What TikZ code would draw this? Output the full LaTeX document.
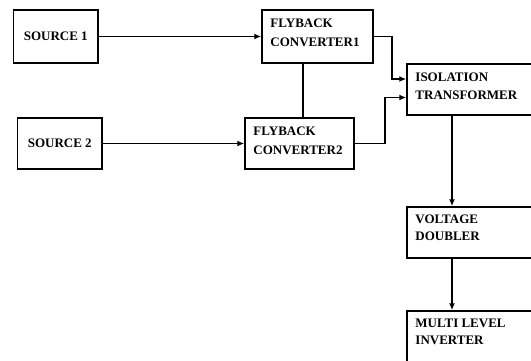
\documentclass[tikz,border=0pt]{standalone}
\usepackage{fontspec}
\setmainfont{Liberation Serif}
\usetikzlibrary{arrows.meta,calc}
\tikzset{
  blk/.style={draw=black, line width=1.5pt, rectangle, inner sep=0pt, fill=white},
  lbl/.style={font=\fontsize{13}{15}\selectfont\bfseries, inner sep=0pt, anchor=base west, text=black},
  conn/.style={line width=1.5pt, draw=black},
  arr/.style={conn, -{Latex[length=7pt,width=6pt]}},
}
\begin{document}
\begin{tikzpicture}[x=1pt,y=-1pt]
\clip (0,0) rectangle (531,360);
\fill[white] (0,0) rectangle (531,360);
% boxes
\node[blk, minimum width=84.5pt, minimum height=53pt] (S1) at (55.75,36.5) {};
\node[blk, minimum width=111pt, minimum height=53pt] (FC1) at (317.5,36.5) {};
\node[blk, minimum width=140pt, minimum height=51pt] (ISO) at (477,89.5) {};
\node[blk, minimum width=84.5pt, minimum height=51pt] (S2) at (59.75,143.5) {};
\node[blk, minimum width=109pt, minimum height=51pt] (FC2) at (299.5,143.5) {};
\node[blk, minimum width=140pt, minimum height=51pt] (VD) at (477,232.5) {};
\node[blk, minimum width=140pt, minimum height=60pt] (ML) at (477,341) {};
% texts
\node[lbl, anchor=center] (tS1) at (S1) {SOURCE 1};
\node[lbl, anchor=center] (tS2) at (S2) {SOURCE 2};
\node[lbl] (tFC1a) at ($(FC1.north west)+(9,18)$) {FLYBACK};
\node[lbl] (tFC1b) at ($(FC1.north west)+(9,37)$) {CONVERTER1};
\node[lbl] (tFC2a) at ($(FC2.north west)+(9,18)$) {FLYBACK};
\node[lbl] (tFC2b) at ($(FC2.north west)+(9,37)$) {CONVERTER2};
\node[lbl] (tISOa) at ($(ISO.north west)+(9,18)$) {ISOLATION};
\node[lbl] (tISOb) at ($(ISO.north west)+(9,36)$) {TRANSFORMER};
\node[lbl] (tVDa) at ($(VD.north west)+(9,17)$) {VOLTAGE};
\node[lbl] (tVDb) at ($(VD.north west)+(9,34)$) {DOUBLER};
\node[lbl] (tMLa) at ($(ML.north west)+(9,17)$) {MULTI LEVEL};
\node[lbl] (tMLb) at ($(ML.north west)+(9,34)$) {INVERTER};
% connectors
\coordinate (vx) at (303,0);
\draw[arr] (S1) -- (FC1);
\draw[arr] (S2) -- (FC2);
\draw[conn] (vx |- FC1.south) -- (vx |- FC2.north);
\draw[arr] (FC1.east) -- ++(18,0) |- ([yshift=10.5pt]ISO.west);
\draw[arr] (FC2.east) -- ++(30,0) |- ([yshift=-8pt]ISO.west);
\draw[arr] ([xshift=-25pt]ISO.south) -- ([xshift=-25pt]VD.north);
\draw[arr] ([xshift=-25pt]VD.south) -- ([xshift=-25pt]ML.north);
\end{tikzpicture}
\end{document}
